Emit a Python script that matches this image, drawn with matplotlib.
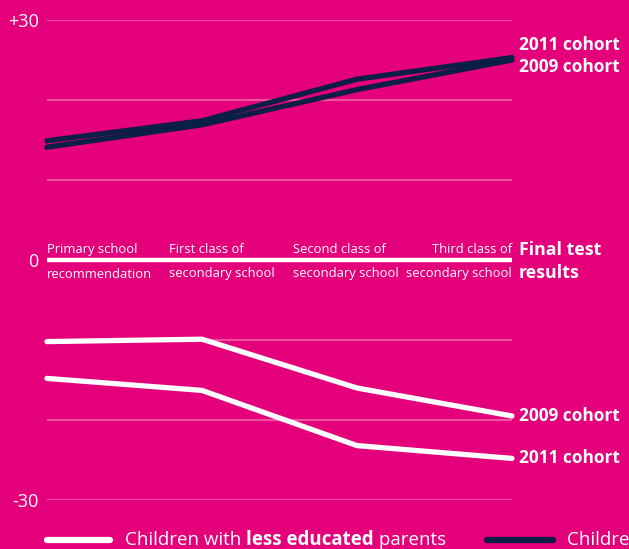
import matplotlib
matplotlib.use('Agg')
import matplotlib.pyplot as plt
from matplotlib.lines import Line2D

# ---- data ----
stages_top = ["Primary school", "First class of", "Second class of", "Third class of"]
stages_bottom = ["recommendation", "secondary school", "secondary school", "secondary school"]
less_2009 = [-10.2, -9.9, -16.0, -19.5]
less_2011 = [-14.8, -16.3, -23.2, -24.8]
high_2011 = [14.9, 17.4, 22.6, 25.3]
high_2009 = [14.1, 16.9, 21.3, 25.0]
yticks = [-30, 0, 30]
yticklabels = ["-30", "0", "+30"]
grid_vals = [-30, -20, -10, 10, 20, 30]

BG = '#e3007a'
GRID = '#ee4f9f'
NAVY = '#0b1f45'
WHITE = '#ffffff'
FONT = ['Open Sans', 'DejaVu Sans']
plt.rcParams['font.family'] = FONT

W, H = 629, 549
fig = plt.figure(figsize=(W / 100, H / 100), dpi=100, facecolor=BG)
ax = fig.add_axes([47 / W, 49 / H, 465 / W, 480 / H])
ax.set_facecolor(BG)
ax.set_xlim(0, 3)
ax.set_ylim(-30, 30)
for s in ax.spines.values():
    s.set_visible(False)
ax.set_xticks([])
ax.set_yticks(yticks)
ax.set_yticklabels(yticklabels, color=WHITE, fontsize=13)
ax.tick_params(axis='y', length=0, pad=6)

for g in grid_vals:
    ax.axhline(g, color=GRID, lw=1.6, zorder=1)
ax.axhline(0, color=WHITE, lw=3.2, zorder=2, solid_capstyle='round')

x = list(range(len(stages_top)))
for ys in (less_2009, less_2011):
    ax.plot(x, ys, color=WHITE, lw=3.8, solid_capstyle='round',
            solid_joinstyle='round', clip_on=False, zorder=3)
for ys in (high_2009, high_2011):
    ax.plot(x, ys, color=NAVY, lw=3.8, solid_capstyle='round',
            solid_joinstyle='round', clip_on=False, zorder=3)

# category labels
label_x = [0, 0.79, 1.587, 3]
aligns = ['left', 'left', 'left', 'right']
for lx, t, b, ha in zip(label_x, stages_top, stages_bottom, aligns):
    ax.text(lx, 1.35, t, ha=ha, va='center', color=WHITE, fontsize=9.4)
    ax.text(lx, -1.75, b, ha=ha, va='center', color=WHITE, fontsize=9.4)

# right-side labels
rx = 3.045
ax.text(rx, 26.9, "2011 cohort", color=WHITE, fontsize=12.4, fontweight='bold',
        ha='left', va='center', clip_on=False)
ax.text(rx, 24.1, "2009 cohort", color=WHITE, fontsize=12.4, fontweight='bold',
        ha='left', va='center', clip_on=False)
ax.text(rx, 1.3, "Final test", color=WHITE, fontsize=12.8, fontweight='bold',
        ha='left', va='center', clip_on=False)
ax.text(rx, -1.6, "results", color=WHITE, fontsize=12.8, fontweight='bold',
        ha='left', va='center', clip_on=False)
ax.text(rx, -19.5, "2009 cohort", color=WHITE, fontsize=12.4, fontweight='bold',
        ha='left', va='center', clip_on=False)
ax.text(rx, -24.7, "2011 cohort", color=WHITE, fontsize=12.4, fontweight='bold',
        ha='left', va='center', clip_on=False)

# legend
ly = 1 - 540 / H
fig.add_artist(Line2D([47 / W, 110 / W], [ly, ly], color=WHITE, lw=4.5,
                      solid_capstyle='round', transform=fig.transFigure))
fig.add_artist(Line2D([487 / W, 553 / W], [ly, ly], color=NAVY, lw=4.5,
                      solid_capstyle='round', transform=fig.transFigure))

renderer = fig.canvas.get_renderer()
base_y = 1 - 545 / H


def rich(xpix, parts):
    xp = xpix
    for txt, wt in parts:
        t = fig.text(xp / W, base_y, txt, color=WHITE, fontsize=13.5,
                     fontweight=wt, ha='left', va='baseline')
        xp += t.get_window_extent(renderer).width


rich(125, [("Children with ", 'normal'), ("less educated", 'bold'), (" parents", 'normal')])
rich(567, [("Children with ", 'normal'), ("highly educated", 'bold'), (" parents", 'normal')])

fig.savefig('out.png', dpi=100, facecolor=BG)
